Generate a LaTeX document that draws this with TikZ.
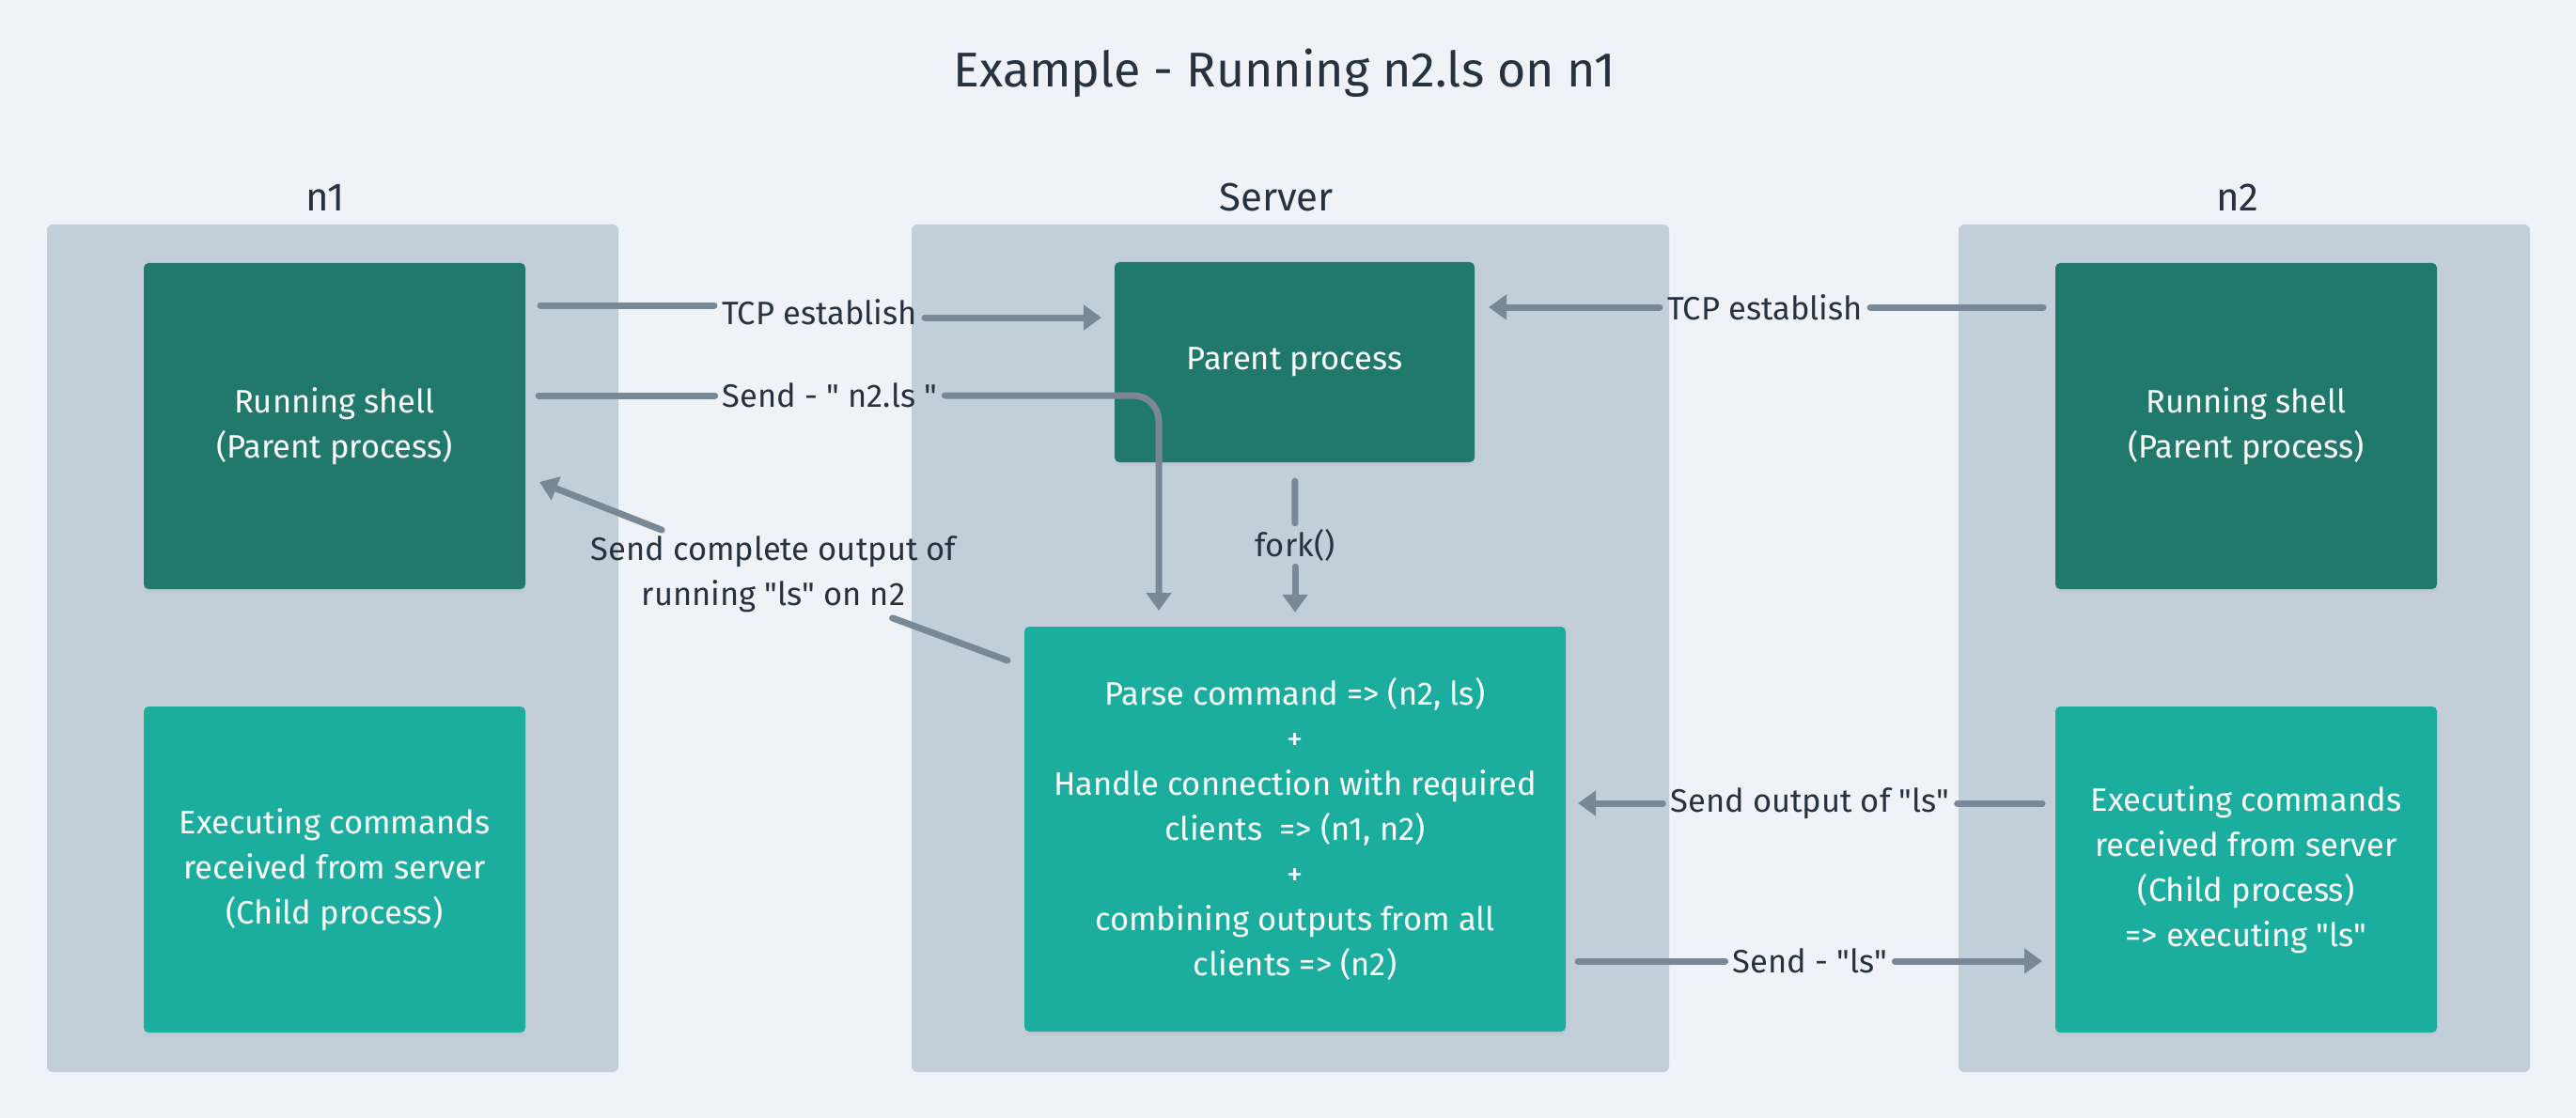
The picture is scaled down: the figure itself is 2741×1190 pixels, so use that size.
\documentclass[tikz,border=0pt]{standalone}
\usepackage{fontspec}
\setmainfont{Fira Sans}
\usetikzlibrary{arrows.meta,shadows}

\definecolor{pagebg}{HTML}{EFF3F7}
\definecolor{contbg}{HTML}{C3CFD8}
\definecolor{darkgreen}{HTML}{20796A}
\definecolor{tealgreen}{HTML}{1BAE9F}
\definecolor{linkgray}{HTML}{7A8896}
\definecolor{inkdark}{HTML}{263240}

\begin{document}
\begin{tikzpicture}[
    x=1pt, y=-1pt,
    container/.style={fill=contbg,rounded corners=6pt,inner sep=0pt,minimum width=608pt,minimum height=902pt},
    shellbox/.style={fill=darkgreen,text=white,rounded corners=5pt,inner sep=0pt,align=center,
      minimum width=406pt,minimum height=347pt,font=\fontsize{34.5}{48}\selectfont,
      drop shadow={shadow xshift=0pt,shadow yshift=-4pt,opacity=0.08}},
    childbox/.style={shellbox,fill=tealgreen},
    heading/.style={text=inkdark,anchor=base,font=\fontsize{42}{50}\selectfont},
    lbl/.style={text=inkdark,align=center,inner xsep=8pt,inner ysep=6pt,font=\fontsize{34.5}{48}\selectfont},
    conn/.style={draw=linkgray,line width=7pt,line cap=round},
    flow/.style={conn,-{Triangle[length=19pt,width=26pt]}}
    ]

    \useasboundingbox (0,0) rectangle (2741,1190);
    \fill[pagebg] (0,0) rectangle (2741,1190);

    \node (title) [heading,font=\fontsize{52}{60}\selectfont] at (1367,93) {Example - Running n2.ls on n1};

    % the three machines
    \node (n1) [container] at (354,690) {};
    \node (server) [container,minimum width=806pt] at (1373,690) {};
    \node (n2) [container] at (2388,690) {};

    \node (n1lbl) [heading] at (346,225) {n1};
    \node (serverlbl) [heading] at (1358,225) {Server};
    \node (n2lbl) [heading] at (2381,225) {n2};

    \node (shell1) [shellbox] at (356,453.5) {Running shell\\(Parent process)};
    \node (child1) [childbox] at (356,925.5) {Executing commands\\received from server\\(Child process)};

    \node (parent) [shellbox,minimum width=383pt,minimum height=213pt] at (1377.5,385.5) {Parent process};
    \node (parse) [childbox,minimum width=576pt,minimum height=431pt] at (1378,882.5)
      {Parse command => (n2, ls)\\+\\Handle connection with required\\clients~ => (n1, n2)\\+\\combining outputs from all\\clients => (n2)};

    \node (shell2) [shellbox] at (2390,453.5) {Running shell\\(Parent process)};
    \node (child2) [childbox] at (2390,925.5)
      {Executing commands\\received from server\\(Child process)\\=> executing \textquotedbl ls\textquotedbl};

    % n1 -> server
    \node (tcp1) [lbl] at (872,332) {TCP establish};
    \coordinate (tcp1a) at (575,325);
    \coordinate (tcp1b) at (1172,338);
    \draw[conn] (tcp1a) -- (tcp1a -| tcp1.west);
    \draw[flow] (tcp1b -| tcp1.east) -- (tcp1b);

    \node (send1) [lbl] at (883,421) {Send - \textquotedbl\ n2.ls \textquotedbl};
    \coordinate (send1a) at (573,421);
    \coordinate (send1c) at (1233,421);
    \coordinate (send1b) at (1233,650);
    \draw[conn] (send1a) -- (send1);
    \draw[flow,rounded corners=27pt] (send1) -- (send1c) -- (send1b);

    \node (result) [lbl] at (823,611) {Send complete output of\\running \textquotedbl ls\textquotedbl\ on n2};
    \coordinate (resulta) at (1072,703);
    \coordinate (resultb) at (574,513);
    \draw[conn] (resulta) -- (result);
    \draw[flow] (result) -- (resultb);

    % inside the server
    \node (fork) [lbl] at (1378,580) {fork()};
    \draw[conn,shorten <=20pt] (parent) -- (fork);
    \draw[flow,shorten >=15pt] (fork) -- (parse);

    % n2 <-> server
    \node (tcp2) [lbl] at (1878,327) {TCP establish};
    \coordinate (tcp2a) at (2174,327);
    \coordinate (tcp2b) at (1584,327);
    \draw[conn] (tcp2a) -- (tcp2);
    \draw[flow] (tcp2) -- (tcp2b);

    \node (output2) [lbl] at (1926,855) {Send output of \textquotedbl ls\textquotedbl};
    \coordinate (output2a) at (2173,855);
    \coordinate (output2b) at (1679,855);
    \draw[conn] (output2a) -- (output2);
    \draw[flow] (output2) -- (output2b);

    \node (ls2) [lbl] at (1926,1023) {Send - \textquotedbl ls\textquotedbl};
    \coordinate (ls2a) at (1679,1023);
    \coordinate (ls2b) at (2173,1023);
    \draw[conn] (ls2a) -- (ls2);
    \draw[flow] (ls2) -- (ls2b);

  \end{tikzpicture}
\end{document}
